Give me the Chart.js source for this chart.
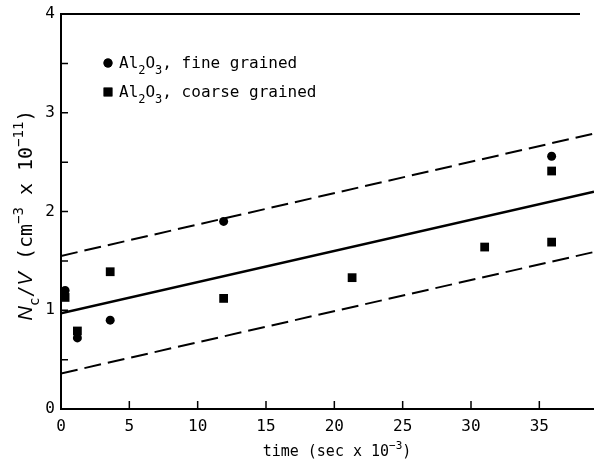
<!DOCTYPE html>
<html>
<head>
<meta charset="utf-8">
<script src="https://cdn.jsdelivr.net/npm/chart.js@4.4.1/dist/chart.umd.min.js"></script>
<style>
  html, body { margin: 0; padding: 0; background: #fff; }
  #wrap { width: 594px; height: 464px; }
</style>
</head>
<body>
<div id="wrap"><canvas id="chart" width="594" height="464"></canvas></div>
<script>
// fine grained Al2O3 (circles)
const fineTime = [0.3, 1.2, 3.6, 11.9, 35.9];
const fineValue = [1.2, 0.72, 0.9, 1.9, 2.56];
// coarse grained Al2O3 (squares)
const coarseTime = [0.3, 1.2, 3.6, 11.9, 21.3, 31.0, 35.9, 35.9];
const coarseValue = [1.13, 0.79, 1.39, 1.12, 1.33, 1.64, 2.41, 1.69];
// fitted line and its band
const fitTime = [0, 39];
const fitMean = [0.97, 2.2];
const fitUpper = [1.55, 2.79];
const fitLower = [0.36, 1.59];
// axes
const xTicks = [0, 5, 10, 15, 20, 25, 30, 35];
const yTicks = [0, 1, 2, 3, 4];
const yMinorTicks = [0.5, 1.5, 2.5, 3.5];

const MONO = "'DejaVu Sans Mono', monospace";

const toPoints = (xs, ys) => xs.map((x, i) => ({ x, y: ys[i] }));

function setFont(ctx, p, size) {
  const s = p.small ? Math.round(size * 0.72) : size;
  ctx.font = `${p.italic ? 'italic ' : ''}${s}px ${p.italic ? "'Liberation Sans'" : MONO}`;
}

// draws a run of text pieces (normal / sub / sup) starting at x, baseline y
function drawRich(ctx, parts, x, y, size) {
  let cx = x;
  parts.forEach((p) => {
    setFont(ctx, p, size);
    const dy = p.sub ? size * 0.35 : p.sup ? -size * 0.45 : 0;
    ctx.fillText(p.t, cx, y + dy);
    cx += ctx.measureText(p.t).width;
  });
  return cx - x;
}

function richWidth(ctx, parts, size) {
  let w = 0;
  parts.forEach((p) => {
    setFont(ctx, p, size);
    w += ctx.measureText(p.t).width;
  });
  return w;
}

/* PLUGINS */

// inward ticks, top frame line, legend and axis titles
const decorations = {
  id: 'decorations',
  afterDraw(chart) {
    const { ctx, chartArea } = chart;
    const xs = chart.scales.x;
    const ys = chart.scales.y;
    ctx.save();
    ctx.strokeStyle = '#000';
    ctx.fillStyle = '#000';
    ctx.lineWidth = 1.5;

    // ticks
    ctx.beginPath();
    xTicks.slice(1).forEach((v) => {
      const px = xs.getPixelForValue(v);
      ctx.moveTo(px, chartArea.bottom);
      ctx.lineTo(px, chartArea.bottom - 8);
    });
    yTicks.slice(1).concat(yMinorTicks).forEach((v) => {
      const py = ys.getPixelForValue(v);
      ctx.moveTo(chartArea.left, py);
      ctx.lineTo(chartArea.left + 7, py);
    });
    ctx.stroke();

    // top frame
    ctx.lineWidth = 2;
    ctx.beginPath();
    ctx.moveTo(chartArea.left, chartArea.top);
    ctx.lineTo(chartArea.right - 14, chartArea.top);
    ctx.stroke();

    // legend
    ctx.textBaseline = 'alphabetic';
    ctx.textAlign = 'left';
    const legend = [
      { style: 'circle', r: 4.5, label: ', fine grained', y: 63 },
      { style: 'rect', r: 6.2, label: ', coarse grained', y: 92 },
    ];
    legend.forEach((item) => {
      Chart.helpers.drawPoint(ctx, { pointStyle: item.style, radius: item.r, borderWidth: 0 }, 108, item.y);
      ctx.fill();
      drawRich(ctx, [
        { t: 'Al' }, { t: '2', small: true, sub: true },
        { t: 'O' }, { t: '3', small: true, sub: true },
        { t: item.label },
      ], 119, item.y + 5, 16);
    });

    // x title
    const xParts = [{ t: 'time (sec x 10' }, { t: '\u22123', small: true, sup: true }, { t: ')' }];
    const xw = richWidth(ctx, xParts, 15);
    drawRich(ctx, xParts, 337 - xw / 2, 456, 15);

    // y title
    const yParts = [
      { t: 'N', italic: true }, { t: 'c', small: true, sub: true },
      { t: '/' }, { t: 'V', italic: true },
      { t: ' (cm' }, { t: '\u22123', small: true, sup: true },
      { t: ' x 10' }, { t: '\u221211', small: true, sup: true }, { t: ')' },
    ];
    const yw = richWidth(ctx, yParts, 20);
    ctx.translate(32, 215);
    ctx.rotate(-Math.PI / 2);
    drawRich(ctx, yParts, -yw / 2, 0, 20);
    ctx.restore();
  },
};

/* DATA */

const data = {
  datasets: [
    {
      type: 'line', data: toPoints(fitTime, fitMean),
      borderColor: '#000', borderWidth: 2.5, pointRadius: 0,
    },
    {
      type: 'line', data: toPoints(fitTime, fitUpper),
      borderColor: '#000', borderWidth: 2, borderDash: [17, 7], pointRadius: 0,
    },
    {
      type: 'line', data: toPoints(fitTime, fitLower),
      borderColor: '#000', borderWidth: 2, borderDash: [17, 7], pointRadius: 0,
    },
    {
      type: 'scatter', data: toPoints(coarseTime, coarseValue),
      pointStyle: 'rect', pointRadius: 6.2, backgroundColor: '#000', borderWidth: 0,
    },
    {
      type: 'scatter', data: toPoints(fineTime, fineValue),
      pointStyle: 'circle', pointRadius: 4.5, backgroundColor: '#000', borderWidth: 0,
    },
  ],
};

/* CONFIG */

const config = {
  data,
  options: {
    responsive: false,
    animation: false,
    layout: { autoPadding: false, padding: { top: 14, right: 0, left: 0, bottom: 0 } },
    plugins: { legend: { display: false }, tooltip: { enabled: false } },
    scales: {
      x: {
        type: 'linear', min: 0, max: 39,
        afterBuildTicks(scale) { scale.ticks = xTicks.map((value) => ({ value })); },
        afterFit(scale) { scale.height = 55; scale.paddingRight = 0; },
        grid: { display: false, drawTicks: false },
        border: { display: true, color: '#000', width: 2 },
        ticks: { color: '#000', padding: 8, font: { family: MONO, size: 16 } },
      },
      y: {
        type: 'linear', min: 0, max: 4,
        afterBuildTicks(scale) { scale.ticks = yTicks.map((value) => ({ value })); },
        afterFit(scale) { scale.width = 61; scale.paddingTop = 0; },
        grid: { display: false, drawTicks: false },
        border: { display: true, color: '#000', width: 2 },
        ticks: { color: '#000', padding: 6, font: { family: MONO, size: 16 } },
      },
    },
  },
  plugins: [decorations],
};

/* CHART */

const myChart = new Chart(document.getElementById('chart').getContext('2d'), config);
</script>
</body>
</html>
